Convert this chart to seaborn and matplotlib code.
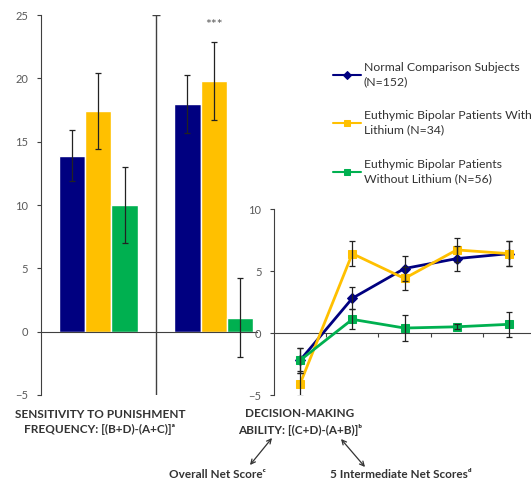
import pandas as pd
import matplotlib
matplotlib.use("Agg")
import matplotlib.pyplot as plt
import seaborn as sns

sns.set_style("white")
plt.rcParams['font.family'] = ['Lato', 'DejaVu Sans']

# series / groups
series = ["Normal Comparison Subjects\n(N=152)",
          "Euthymic Bipolar Patients With\nLithium (N=34)",
          "Euthymic Bipolar Patients\nWithout Lithium (N=56)"]
colors = ["#000080", "#FFC000", "#00B050"]
markers = ["D", "s", "s"]

# bar part: sensitivity to punishment frequency / overall net score
bar_groups = ["Sensitivity", "Overall"]
normal_bars = [13.9, 18.0]
normal_bar_err = [2.0, 2.3]
lithium_bars = [17.4, 19.8]
lithium_bar_err = [3.0, 3.1]
nolithium_bars = [10.0, 1.1]
nolithium_bar_err = [3.0, 3.1]

# line part: 5 intermediate net scores
blocks = [1, 2, 3, 4, 5]
normal_net = [-2.2, 2.8, 5.2, 6.0, 6.4]
normal_net_err = [1.0, 0.9, 1.0, 1.0, 1.0]
lithium_net = [-4.1, 6.4, 4.4, 6.7, 6.4]
lithium_net_err = [1.0, 1.0, 0.9, 1.0, 1.0]
nolithium_net = [-2.2, 1.1, 0.4, 0.5, 0.7]
nolithium_net_err = [1.0, 0.8, 1.05, 0.2, 1.0]

W, H = 531, 483
def fx(px): return px / W
def fy(py): return 1 - py / H

grey = "#595959"
axcol = "#404040"
txtcol = "#333333"

fig = plt.figure(figsize=(W / 100, H / 100), dpi=100)

# ---- bars
ax = fig.add_axes([fx(40.5), fy(395), fx(256.5) - fx(40.5), fy(15) - fy(395)])
bars_df = pd.DataFrame({
    "group": bar_groups * 3,
    "value": normal_bars + lithium_bars + nolithium_bars,
    "err": normal_bar_err + lithium_bar_err + nolithium_bar_err,
    "series": [series[0]] * 2 + [series[1]] * 2 + [series[2]] * 2,
})
sns.barplot(data=bars_df, x="group", y="value", hue="series", palette=colors,
            width=0.685, errorbar=None, saturation=1, legend=False, ax=ax)
for cont, s in zip(ax.containers, series):
    sub = bars_df[bars_df.series == s]
    xs = [b.get_x() + b.get_width() / 2 for b in cont]
    ax.errorbar(xs, sub["value"], yerr=sub["err"], fmt="none", ecolor="#222222",
                elinewidth=0.9, capsize=2.5, capthick=0.9, zorder=5)

ax.set_xlim(-0.5, 1.37)
ax.set_ylim(-5, 25)
ax.set_yticks([-5, 0, 5, 10, 15, 20, 25])
ax.set_xlabel("")
ax.set_ylabel("")
for sp in ["top", "right"]:
    ax.spines[sp].set_visible(False)
ax.spines["bottom"].set_position(("data", 0))
ax.spines["bottom"].set_color(axcol)
ax.spines["left"].set_color(axcol)
ax.tick_params(axis="x", length=0, labelbottom=False)
ax.tick_params(axis="y", direction="out", length=3, color=axcol, labelsize=8,
               labelcolor=grey, left=True, pad=6)
ax.axvline(0.5, color=axcol, lw=1)
ax.plot([0.5], [25], marker="_", color=axcol, ms=6, mew=1)
ax.text(1, 24.2, "***", ha="center", va="center", fontsize=10, color=grey)

# ---- lines
ax2 = fig.add_axes([fx(274), fy(395), fx(535) - fx(274), fy(209) - fy(395)])
ax2.patch.set_alpha(0)
nets = [normal_net, lithium_net, nolithium_net]
errs = [normal_net_err, lithium_net_err, nolithium_net_err]
for s, c, m, v, e in zip(series, colors, markers, nets, errs):
    sns.lineplot(x=blocks, y=v, color=c, marker=m, markersize=5.5,
                 markeredgecolor=c, lw=2, label=s, ax=ax2, zorder=3)
    ax2.errorbar(blocks, v, yerr=e, fmt="none", ecolor="#222222",
                 elinewidth=0.9, capsize=2.5, capthick=0.9, zorder=4)
handles, labels = ax2.get_legend_handles_labels()
if ax2.get_legend():
    ax2.get_legend().remove()
ax2.set_xlim(0.5, 5.5)
ax2.set_ylim(-5, 10)
ax2.set_yticks([-5, 0, 5, 10])
ax2.set_xticks([1.5, 2.5, 3.5, 4.5])
for sp in ["top", "right"]:
    ax2.spines[sp].set_visible(False)
ax2.spines["bottom"].set_position(("data", 0))
ax2.spines["bottom"].set_color(axcol)
ax2.spines["left"].set_color(axcol)
ax2.tick_params(axis="x", direction="out", length=3, color=axcol, labelbottom=False, bottom=True)
ax2.tick_params(axis="y", direction="out", length=3, color=axcol, labelsize=8,
                labelcolor=grey, left=True, pad=6)

leg = fig.legend(handles, labels, loc="upper left", bbox_to_anchor=(fx(333), fy(62)),
                 frameon=False, fontsize=8.8, handlelength=2.3, handletextpad=0.2,
                 labelspacing=1.9, borderaxespad=0, borderpad=0)
for t in leg.get_texts():
    t.set_color(txtcol)
    t.set_linespacing(1.35)
for h in leg.get_lines():
    h.set_linewidth(1.5)
    h.set_markersize(4.5)

# ---- annotations
bold = dict(ha="center", va="center", fontweight="bold", fontsize=8.5,
            color=txtcol, linespacing=1.45)
fig.text(fx(100), fy(422), "SENSITIVITY TO PUNISHMENT\nFREQUENCY: [(B+D)-(A+C)]\u1d43", **bold)
fig.text(fx(300), fy(422), "DECISION-MAKING\nABILITY: [(C+D)-(A+B)]\u1d47", **bold)
fig.text(fx(217), fy(475), "Overall Net Score\u1d9c", **bold)
fig.text(fx(401), fy(475), "5 Intermediate Net Scores\u1d48", **bold)
arr = dict(arrowstyle="<->", color="#333333", lw=0.9, shrinkA=0, shrinkB=0)
fig.add_artist(matplotlib.patches.FancyArrowPatch((fx(272), fy(438)), (fx(250), fy(465)),
               transform=fig.transFigure, mutation_scale=8, **arr))
fig.add_artist(matplotlib.patches.FancyArrowPatch((fx(341), fy(439)), (fx(365), fy(467)),
               transform=fig.transFigure, mutation_scale=8, **arr))

fig.savefig("out.png", dpi=100)
